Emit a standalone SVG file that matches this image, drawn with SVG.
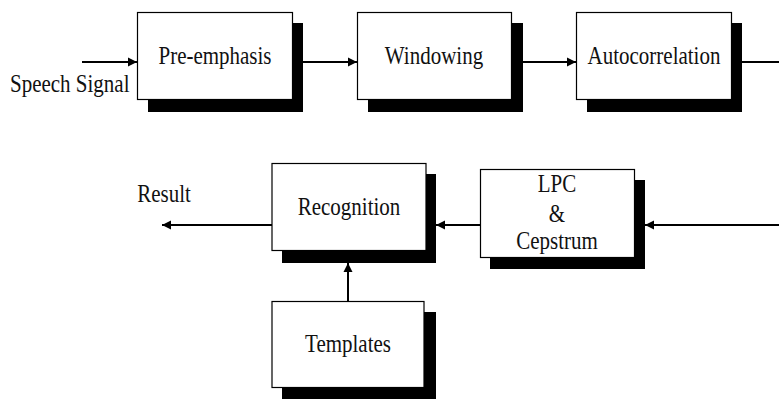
<svg xmlns="http://www.w3.org/2000/svg" width="779" height="399" viewBox="0 0 779 399">
  <style>
    .box { fill: #ffffff; stroke: #000000; stroke-width: 1.2; }
    .shadow { fill: #000000; }
    text { font-family: "Liberation Serif", "Times New Roman", serif; font-size: 21px; fill: #111111; text-anchor: middle; }
    .wire { stroke: #000000; stroke-width: 2; fill: none; marker-end: url(#arrow); }
    .plain { stroke: #000000; stroke-width: 2; fill: none; }
  </style>
  <defs>
    <marker id="arrow" viewBox="0 0 10 10" refX="10" refY="5" markerWidth="4.5" markerHeight="5" markerUnits="strokeWidth" orient="auto">
      <path d="M0,0 L10,5 L0,10 z" fill="#000000"/>
    </marker>
  </defs>
  <rect width="779" height="399" fill="#ffffff"/>

  <!-- connectors -->
  <g id="connectors">
    <line class="wire" x1="82" y1="62" x2="137" y2="62"/>
    <line class="wire" x1="303" y1="62" x2="357" y2="62"/>
    <line class="wire" x1="523" y1="62" x2="576" y2="62"/>
    <line class="plain" x1="742" y1="62" x2="779" y2="62"/>
    <line class="wire" x1="779" y1="225" x2="645" y2="225"/>
    <line class="wire" x1="480" y1="225" x2="436" y2="225"/>
    <line class="wire" x1="272" y1="225" x2="162" y2="225"/>
    <line class="wire" x1="348" y1="301" x2="348" y2="263"/>
  </g>

  <g id="speech-signal">
    <text style="text-anchor:start" transform="translate(10,91.5) scale(1,1.18)">Speech Signal</text>
  </g>

  <g id="pre-emphasis">
    <rect class="shadow" x="148" y="23" width="155" height="89"/>
    <rect class="box" x="137.5" y="12.5" width="155" height="87"/>
    <text transform="translate(215,64) scale(1,1.18)">Pre-emphasis</text>
  </g>

  <g id="windowing">
    <rect class="shadow" x="368" y="23" width="155" height="89"/>
    <rect class="box" x="357.5" y="12.5" width="154" height="87"/>
    <text transform="translate(434,64) scale(1,1.18)">Windowing</text>
  </g>

  <g id="autocorrelation">
    <rect class="shadow" x="587" y="23" width="155" height="89"/>
    <rect class="box" x="576.5" y="12.5" width="155" height="87"/>
    <text transform="translate(654,64) scale(1,1.18)">Autocorrelation</text>
  </g>

  <g id="lpc-cepstrum">
    <rect class="shadow" x="490" y="180" width="155" height="89"/>
    <rect class="box" x="480.5" y="169.5" width="154" height="88"/>
    <text transform="translate(557,191.5) scale(1,1.18)">LPC</text>
    <text transform="translate(557,221.5) scale(1,1.18)">&amp;</text>
    <text transform="translate(557,249) scale(1,1.18)">Cepstrum</text>
  </g>

  <g id="recognition">
    <rect class="shadow" x="282" y="174" width="154" height="89"/>
    <rect class="box" x="272" y="163.5" width="154" height="87"/>
    <text transform="translate(349,215) scale(1,1.18)">Recognition</text>
  </g>

  <g id="result">
    <text transform="translate(164,201.5) scale(1,1.18)">Result</text>
  </g>

  <g id="templates">
    <rect class="shadow" x="282" y="312" width="154" height="87"/>
    <rect class="box" x="272" y="301.5" width="152" height="86"/>
    <text transform="translate(348,351.5) scale(1,1.18)">Templates</text>
  </g>
</svg>
